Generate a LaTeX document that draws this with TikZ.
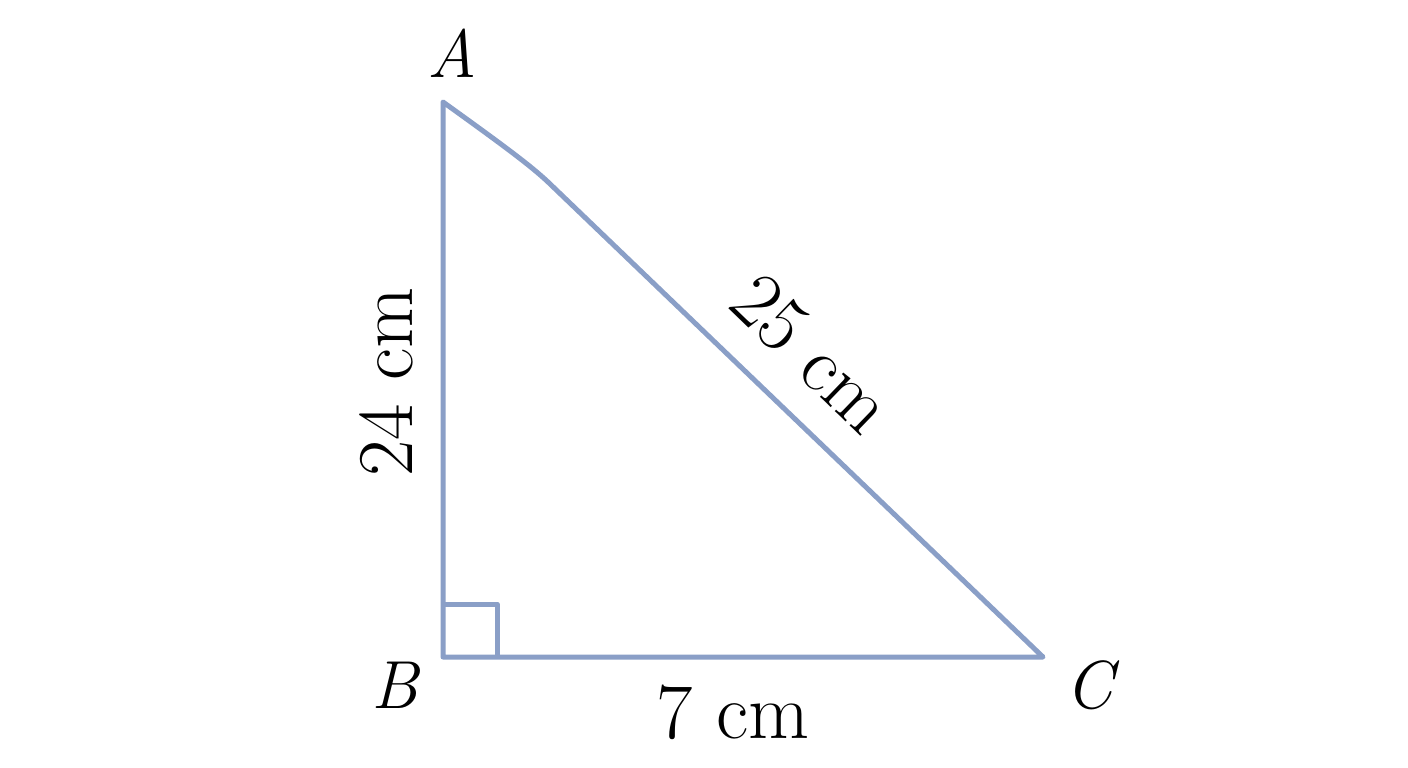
\documentclass[tikz,border=0pt]{standalone}
\begin{document}
\begin{tikzpicture}[x=1pt,y=-1pt,
  side/.style={draw=sidecol,line width=5pt,line join=round,line cap=round},
  vlabel/.style={font=\fontsize{68}{70}\selectfont\itshape,inner sep=0pt},
  mlabel/.style={font=\fontsize{79}{81}\selectfont,inner sep=0pt}]
\definecolor{sidecol}{HTML}{8A9FC7}
\useasboundingbox (0,0) rectangle (1408,768);
\fill[white] (0,0) rectangle (1408,768);
\coordinate (A) at (443,102);
\coordinate (B) at (443,657);
\coordinate (C) at (1043,657);
\coordinate (K) at (548,182);
\coordinate (R1) at (497,657);
\coordinate (R2) at (497,604);
\coordinate (R3) at (443,604);
\draw[side] (A) .. controls (500,143) and (530,165) .. (K) -- (C) -- (B) -- cycle;
\draw[side,line cap=butt] (R3) -- (R2) -- (R1);
\node[vlabel] (lA) at (452,53) {A};
\node[vlabel] (lB) at (395,685) {B};
\node[vlabel] (lC) at (1089,685) {C};
\node[mlabel,rotate=90] (l24) at (386,382) {24 cm};
\node[mlabel,rotate=-44] (l25) at (812,354) {25 cm};
\node[mlabel] (l7) at (733,712) {7 cm};
\end{tikzpicture}
\end{document}
